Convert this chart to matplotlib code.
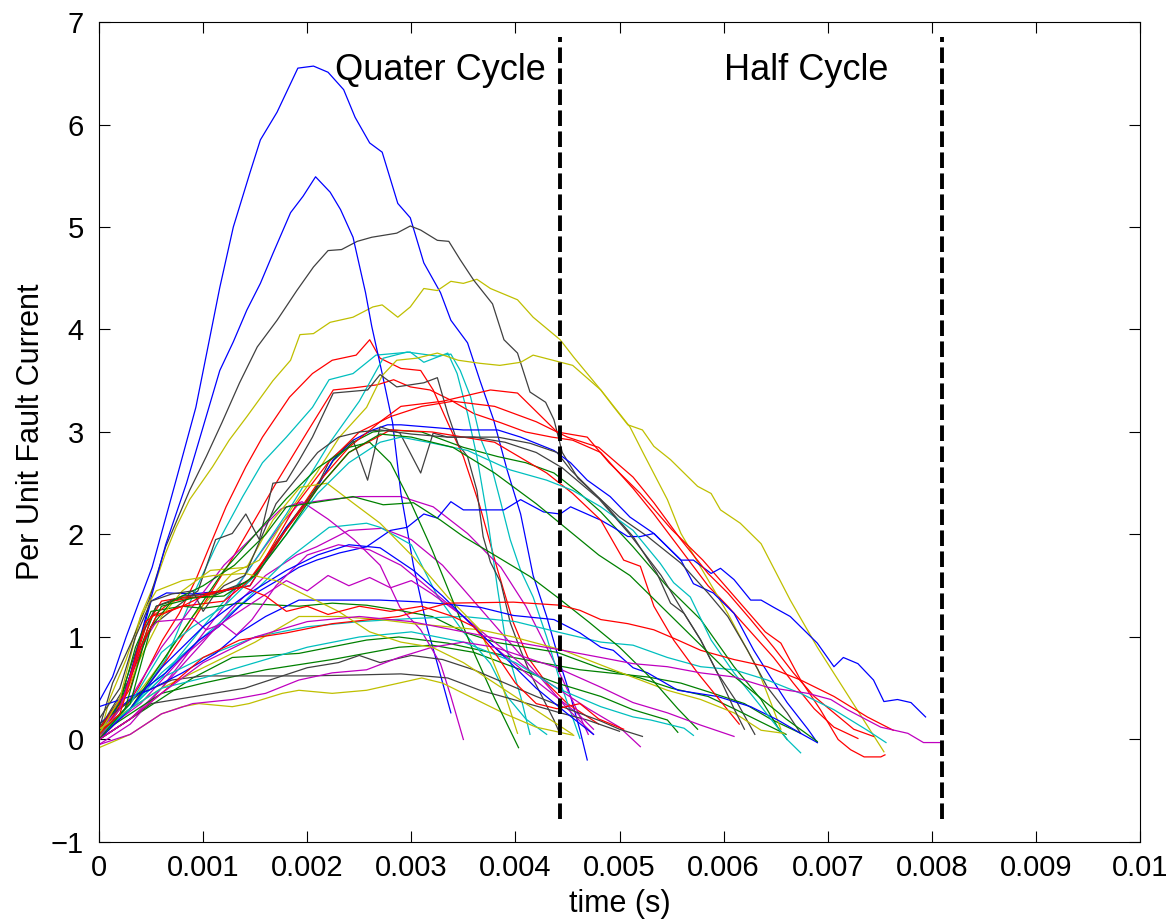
import numpy as np
import matplotlib
matplotlib.use("Agg")
import matplotlib.pyplot as plt

plt.rcParams['font.family'] = ['Liberation Sans', 'DejaVu Sans']

# ---- data: time in ms, per unit fault current ----
b1_t = [0, .13, .26, .38, .51, .74, .93, 1.06, 1.16, 1.29, 1.45, 1.55, 1.71, 1.91, 2.06, 2.2, 2.35, 2.46, 2.6, 2.72, 2.87, 2.99, 3.12, 3.28, 3.38, 3.54, 3.66, 3.79, 3.92, 4.05, 4.17, 4.3, 4.43, 4.53, 4.62, 4.69]
b1_y = [.37, .61, 1.0, 1.33, 1.68, 2.53, 3.24, 3.9, 4.41, 5.0, 5.53, 5.85, 6.12, 6.55, 6.57, 6.51, 6.34, 6.07, 5.82, 5.73, 5.23, 5.09, 4.65, 4.36, 4.09, 3.87, 3.5, 3.12, 2.63, 2.2, 1.6, 1.2, .74, .42, .09, -.2]
b2_t = [0, .25, .45, .64, .84, 1.0, 1.16, 1.29, 1.42, 1.55, 1.67, 1.84, 1.96, 2.08, 2.22, 2.32, 2.44, 2.56, 2.62, 2.72, 2.82, 2.9, 3.02, 3.15, 3.25, 3.38]
b2_y = [.05, .45, 1.2, 1.9, 2.5, 3.05, 3.6, 3.88, 4.19, 4.45, 4.74, 5.14, 5.3, 5.49, 5.34, 5.17, 4.9, 4.36, 4.03, 3.57, 3.09, 2.4, 1.7, 1.1, .74, .26]
b3_t = [0, .2, .35, .5, .65, .9, 1.2, 1.45, 1.8, 2.06, 2.25, 2.44, 2.63, 2.77, 2.9, 3.5, 3.83, 4.05, 4.37, 4.53, 4.69, 4.91, 5.1, 5.33, 5.59, 5.71, 5.9, 6.1, 6.29, 6.45, 6.61, 6.81, 6.9]
b3_y = [.05, .3, .8, 1.35, 1.43, 1.42, 1.45, 1.5, 2.07, 2.4, 2.73, 2.92, 3.02, 3.07, 3.07, 3.02, 3.02, 2.95, 2.82, 2.7, 2.53, 2.37, 2.17, 2.01, 1.75, 1.52, 1.43, 1.23, .87, .61, .36, .1, -.03]
b4_t = [0, .13, .38, .64, .77, .96, 1.15, 1.35, 1.51, 1.73, 1.92, 2.09, 2.31, 2.57, 2.8, 2.96, 3.12, 3.25, 3.38, 3.5, 3.89, 4.05, 4.27, 4.43, 4.53, 4.82, 4.94, 5.08, 5.2, 5.33, 5.46, 5.59, 5.71, 5.88, 5.97, 6.1, 6.26, 6.36, 6.48, 6.64, 6.74, 6.9, 7.06, 7.15, 7.29, 7.44, 7.54, 7.67, 7.8, 7.94]
b4_y = [.15, .26, .45, .65, .78, .97, 1.1, 1.3, 1.43, 1.56, 1.68, 1.75, 1.82, 1.88, 2.04, 2.07, 2.2, 2.16, 2.32, 2.24, 2.24, 2.34, 2.22, 2.2, 2.27, 2.14, 2.07, 1.98, 1.98, 2.01, 1.88, 1.75, 1.75, 1.62, 1.67, 1.56, 1.36, 1.36, 1.29, 1.2, 1.1, .94, .71, .8, .74, .58, .37, .39, .36, .22]
b5_t = [0, .48, .8, 1.12, 1.35, 1.6, 1.92, 2.3, 2.7, 3.12, 3.66, 3.98, 4.37, 4.62, 4.82, 4.94, 5.13, 5.27, 5.56, 5.94, 6.26, 6.52, 6.74, 6.9]
b5_y = [.32, .48, .65, .84, 1.04, 1.2, 1.36, 1.36, 1.36, 1.34, 1.29, 1.21, 1.17, 1.04, .9, .87, .7, .65, .48, .42, .32, .19, .06, -.03]
b6_t = [0, .3, .6, 1.0, 1.4, 1.8, 2.1, 2.4, 2.7, 3.02, 3.3, 3.6, 3.9, 4.2, 4.5, 4.75]
b6_y = [0, .3, .7, 1.1, 1.4, 1.65, 1.8, 1.9, 1.87, 1.65, 1.4, 1.1, .8, .5, .25, .05]

g1_t = [0, .2, .4, .55, .8, 1.1, 1.45, 1.8, 2.06, 2.25, 2.44, 2.63, 2.8, 3.1, 3.5, 3.83, 4.1, 4.37, 4.62, 4.82, 5.13, 5.46, 5.78, 6.1, 6.36, 6.52, 6.61]
g1_y = [.08, .35, .9, 1.3, 1.38, 1.4, 1.55, 2.07, 2.42, 2.72, 2.9, 3.0, 3.02, 3.0, 2.85, 2.76, 2.7, 2.6, 2.4, 2.22, 1.88, 1.49, 1.17, .71, .39, .12, 0]
g3_t = [0, .3, .6, .9, 1.28, 1.92, 2.57, 2.88, 3.35, 3.98, 4.62, 5.27, 5.59, 5.9, 6.2, 6.45, 6.74]
g3_y = [0, .2, .4, .6, .8, .84, .97, 1.0, .94, .8, .68, .61, .55, .45, .35, .2, .06]
g4_t = [0, .3, .6, 1.0, 1.6, 2.24, 2.88, 3.2, 3.6, 4.0, 4.4, 4.82, 5.13, 5.46, 5.56]
g4_y = [.05, .25, .45, .55, .68, .78, .9, .92, .85, .7, .55, .42, .29, .19, .07]
g5_t = [0, .2, .35, .5, .8, 1.0, 1.35, 1.92, 2.24, 2.57, 2.88, 3.2, 3.5, 3.8, 4.1, 4.4, 4.8, 5.2, 5.5, 5.85, 6.1, 6.4, 6.6]
g5_y = [.1, .35, .9, 1.25, 1.3, 1.28, 1.33, 1.3, 1.33, 1.31, 1.26, 1.2, 1.05, .95, .9, .85, .7, .6, .5, .42, .3, .15, .05]
g6_t = [0, .3, .6, .9, 1.2, 1.5, 1.8, 2.1, 2.4, 2.6, 2.8, 3.0, 3.2, 3.4, 3.6, 3.8, 4.03]
g6_y = [.05, .3, .75, 1.2, 1.65, 2.0, 2.35, 2.65, 2.85, 2.9, 2.7, 2.3, 1.85, 1.35, .85, .4, -.08]
g7_t = [0, .3, .5, .7, 1.0, 1.3, 1.6, 1.8, 2.25, 2.44, 2.73, 3.02, 3.28, 3.5, 3.83, 4.14, 4.4, 4.7, 5.0, 5.3, 5.56, 5.75]
g7_y = [.05, .35, 1.1, 1.35, 1.5, 1.7, 2.0, 2.27, 2.34, 2.37, 2.29, 2.31, 2.14, 1.98, 1.78, 1.59, 1.39, 1.15, .9, .6, .3, .1]
g8_t = [0, .25, .45, .6, .9, 1.2, 1.5, 1.8, 2.1, 2.4, 2.7, 3.0, 3.4, 3.8, 4.2, 4.5, 4.8, 5.1, 5.4, 5.7, 6.0, 6.3, 6.6, 6.9]
g8_y = [0, .3, 1.0, 1.3, 1.38, 1.4, 1.6, 2.0, 2.45, 2.8, 2.98, 2.95, 2.85, 2.6, 2.3, 2.05, 1.8, 1.6, 1.3, 1.0, .7, .45, .2, -.02]

r1_t = [0, .16, .38, .61, .77, .93, 1.06, 1.22, 1.41, 1.57, 1.83, 2.05, 2.24, 2.47, 2.6, 2.7, 2.9, 3.09, 3.21, 3.35, 3.5, 3.66, 3.83, 3.98, 4.12, 4.3, 4.5, 4.8]
r1_y = [.05, .16, .51, .97, 1.23, 1.56, 1.88, 2.27, 2.66, 2.95, 3.34, 3.57, 3.7, 3.75, 3.9, 3.72, 3.62, 3.6, 3.41, 3.09, 2.76, 2.27, 1.65, 1.14, .8, .55, .35, .15]
r2_t = [0, .3, .6, .9, 1.3, 1.7, 2.0, 2.25, 2.44, 2.67, 2.83, 2.99, 3.18, 3.38, 3.6, 3.86, 4.1, 4.35, 4.55, 4.82, 5.13, 5.33, 5.59, 5.85, 6.04, 6.26, 6.48, 6.67, 6.87, 7.06, 7.29]
r2_y = [0, .3, .7, 1.15, 1.8, 2.5, 3.0, 3.41, 3.43, 3.46, 3.51, 3.44, 3.41, 3.31, 3.18, 3.09, 3.0, 2.95, 2.92, 2.8, 2.45, 2.2, 1.85, 1.5, 1.3, 1.05, .8, .55, .3, .12, .01]
r3_t = [0, .2, .45, .6, 1.0, 1.45, 1.8, 2.1, 2.4, 2.7, 2.9, 3.3, 3.76, 4.02, 4.4, 4.69, 4.9, 5.2, 5.5, 5.8, 6.1, 6.4, 6.55, 6.74, 6.93, 7.1, 7.22, 7.35, 7.51, 7.55]
r3_y = [.05, .3, 1.1, 1.35, 1.42, 1.5, 2.05, 2.5, 2.85, 3.1, 3.25, 3.3, 3.41, 3.38, 3.0, 2.95, 2.7, 2.4, 2.05, 1.75, 1.4, 1.05, .94, .58, .29, 0, -.1, -.17, -.17, -.15]
r4_t = [0, .3, .5, .8, 1.2, 1.5, 1.9, 2.2, 2.5, 2.8, 3.1, 3.4, 3.8, 4.2, 4.5, 4.8, 5.13, 5.33, 5.59, 5.85, 6.04, 6.26, 6.48, 6.67, 6.87, 7.06, 7.25, 7.44]
r4_y = [0, .5, 1.2, 1.3, 1.35, 1.6, 2.3, 2.7, 3.0, 3.15, 3.25, 3.3, 3.25, 3.1, 2.95, 2.85, 2.56, 2.31, 1.95, 1.62, 1.43, 1.17, .9, .65, .42, .26, .1, .03]
r6_t = [0, .25, .45, .7, 1.0, 1.4, 1.8, 2.1, 2.4, 2.8, 3.2, 3.8, 4.3, 4.55, 4.82, 5.04, 5.2, 5.33, 5.52, 5.75, 5.95, 6.15]
r6_y = [.1, .45, 1.15, 1.35, 1.4, 1.5, 2.05, 2.45, 2.8, 3.02, 3.0, 2.9, 2.6, 2.4, 2.14, 1.75, 1.69, 1.3, .97, .65, .4, .15]
r7_t = [0, .3, .6, 1.0, 1.35, 1.8, 2.24, 2.88, 3.35, 3.98, 4.43, 4.62, 4.82, 5.08, 5.33, 5.56, 5.78, 6.1, 6.42, 6.74, 7.06, 7.38, 7.63]
r7_y = [0, .2, .45, .8, .97, 1.04, 1.13, 1.2, 1.33, 1.34, 1.31, 1.26, 1.17, 1.13, 1.07, .97, .87, .78, .71, .58, .42, .22, .09]
r8_t = [0, .2, .4, .55, .8, 1.06, 1.38, 1.6, 1.8, 2.0, 2.2, 2.5, 2.8, 3.1, 3.4, 3.6, 3.8, 4.0, 4.2, 4.4, 4.62, 4.8, 5.04]
r8_y = [.05, .25, .9, 1.2, 1.3, 1.43, 1.49, 1.4, 1.25, 1.3, 1.22, 1.3, 1.25, 1.3, 1.2, 1.1, .85, .55, .35, .3, .35, .2, .1]

c1_t = [0, .32, .64, .9, 1.12, 1.22, 1.38, 1.57, 1.8, 2.05, 2.21, 2.44, 2.66, 2.88, 2.99, 3.12, 3.35, 3.44, 3.54, 3.63, 3.73, 3.83, 3.92, 4.05, 4.14]
c1_y = [.06, .32, .78, 1.4, 1.88, 2.07, 2.37, 2.7, 2.95, 3.24, 3.51, 3.57, 3.75, 3.77, 3.78, 3.68, 3.77, 3.57, 3.18, 2.76, 2.17, 1.46, .87, .42, .05]
c2_t = [0, .3, .6, 1.0, 1.4, 1.8, 2.22, 2.5, 2.73, 2.96, 3.25, 3.38, 3.47, 3.57, 3.66, 3.76, 3.86, 3.95, 4.05, 4.17, 4.3, 4.45, 4.62]
c2_y = [.1, .3, .6, 1.1, 1.6, 2.2, 2.9, 3.3, 3.72, 3.78, 3.74, 3.76, 3.6, 3.34, 2.95, 2.7, 2.31, 1.95, 1.65, 1.39, 1.0, .5, .01]
c3_t = [0, .3, .6, 1.0, 1.4, 1.8, 2.21, 2.57, 2.7, 3.0, 3.25, 3.5, 3.76, 3.92, 4.1, 4.3]
c3_y = [.05, .3, .65, 1.0, 1.35, 1.75, 2.07, 2.11, 2.07, 1.9, 1.4, 1.05, .74, .42, .2, .05]
c4_t = [0, .3, .6, 1.0, 1.5, 2.0, 2.5, 3.0, 3.5, 4.0, 4.4, 4.82, 5.13, 5.46, 5.78, 6.1, 6.42, 6.74, 7.06, 7.38, 7.56]
c4_y = [.05, .3, .6, .8, 1.0, 1.1, 1.15, 1.18, 1.2, 1.15, 1.05, .95, .92, .8, .71, .68, .58, .45, .29, .09, -.03]
c5_t = [0, .3, .6, .9, 1.2, 1.5, 1.8, 2.1, 2.4, 2.7, 2.9, 3.21, 3.54, 3.95, 4.3, 4.55, 4.82, 5.13, 5.39, 5.52, 5.68, 5.88, 6.1, 6.36, 6.61, 6.74]
c5_y = [0, .35, .85, 1.1, 1.3, 1.6, 2.0, 2.4, 2.7, 2.9, 2.95, 2.89, 2.82, 2.63, 2.53, 2.43, 2.27, 2.04, 1.72, 1.53, 1.39, .97, .65, .32, 0, -.13]
c6_t = [0, .3, .6, 1.0, 1.5, 2.0, 2.5, 3.0, 3.5, 4.0, 4.4, 4.82, 5.13, 5.3, 5.62, 5.71]
c6_y = [.05, .3, .5, .6, .75, .9, 1.0, 1.05, .95, .75, .5, .32, .22, .19, .11, .04]

m1_t = [0, .3, .6, .9, 1.2, 1.5, 1.75, 1.92, 2.2, 2.5, 2.9, 3.21, 3.54, 3.86, 4.1, 4.4, 4.7]
m1_y = [0, .2, .5, .9, 1.3, 1.75, 2.1, 2.3, 2.34, 2.37, 2.37, 2.27, 2.01, 1.68, 1.3, .7, .05]
m2_t = [0, .3, .6, 1.0, 1.3, 1.6, 1.9, 2.09, 2.4, 2.72, 3.0, 3.3, 3.6, 3.9, 4.2, 4.5, 4.75]
m2_y = [-.05, .15, .5, .95, 1.3, 1.6, 1.8, 1.88, 2.04, 2.06, 1.95, 1.7, 1.35, 1.0, .65, .3, .05]
m3_t = [0, .3, .6, .9, 1.2, 1.5, 1.75, 1.95, 2.2, 2.45, 2.7, 2.89, 3.09, 3.28, 3.38, 3.5]
m3_y = [.1, .4, .9, 1.3, 1.7, 2.0, 2.25, 2.32, 2.15, 1.95, 1.7, 1.29, 1.07, .74, .42, 0]
m4_t = [0, .4, .8, 1.2, 1.5, 1.8, 2.0, 2.2, 2.4, 2.6, 2.8, 3.0, 3.2, 3.5, 3.8, 4.1, 4.4, 4.7, 5.0, 5.2]
m4_y = [.05, .35, .8, 1.15, 1.35, 1.55, 1.45, 1.6, 1.5, 1.58, 1.48, 1.55, 1.42, 1.2, .95, .7, .5, .3, .12, -.07]
m5_t = [0, .2, .4, .55, .9, 1.03, 1.18, 1.32, 1.47, 1.7, 2.0, 2.3, 2.6, 2.9, 3.2, 3.5, 3.8, 4.1, 4.35, 4.6, 4.75]
m5_y = [0, .3, .9, 1.15, 1.18, 1.07, 1.13, 1.02, 1.17, 1.5, 1.8, 1.9, 1.85, 1.7, 1.45, 1.2, .9, .65, .45, .25, .1]
m6_t = [0, .3, .6, .9, 1.28, 1.6, 1.92, 2.24, 2.57, 2.88, 3.2, 3.5, 3.8, 4.1, 4.4, 4.82, 5.13, 5.46, 5.78, 6.1]
m6_y = [-.05, .05, .25, .35, .39, .45, .58, .65, .68, .8, .9, .95, .9, .8, .7, .51, .36, .26, .14, .03]
m7_t = [0, .3, .6, 1.0, 1.5, 2.0, 2.5, 3.0, 3.5, 4.0, 4.4, 4.82, 5.13, 5.46, 5.78, 6.1, 6.42, 6.81, 7.03, 7.19, 7.51, 7.77, 7.92, 8.09]
m7_y = [0, .2, .45, .75, 1.0, 1.15, 1.2, 1.15, 1.05, .95, .88, .8, .74, .71, .65, .61, .51, .45, .39, .29, .12, .06, -.03, -.03]

y1_t = [0, .1, .26, .41, .55, .64, .74, .87, 1.09, 1.25, 1.42, 1.67, 1.84, 1.93, 2.06, 2.22, 2.44, 2.63, 2.72, 2.87, 2.99, 3.12, 3.25, 3.38, 3.5, 3.63, 3.76, 4.02, 4.17, 4.43, 4.56, 4.82, 4.94, 5.08, 5.22, 5.33, 5.49, 5.62, 5.75, 5.88, 5.97, 6.16, 6.36, 6.64, 6.9, 7.54]
y1_y = [0, .39, .78, 1.23, 1.56, 1.82, 2.07, 2.34, 2.66, 2.92, 3.15, 3.5, 3.7, 3.95, 3.96, 4.07, 4.12, 4.22, 4.24, 4.12, 4.22, 4.4, 4.38, 4.47, 4.45, 4.49, 4.4, 4.29, 4.12, 3.9, 3.73, 3.41, 3.25, 3.07, 3.02, 2.86, 2.73, 2.6, 2.47, 2.4, 2.24, 2.11, 1.91, 1.36, .9, -.12]
y2_t = [0, .3, .6, .9, 1.28, 1.54, 1.86, 2.09, 2.31, 2.57, 2.72, 2.86, 3.05, 3.25, 3.45, 3.66, 3.85, 4.05, 4.17, 4.36, 4.55, 4.82, 5.1, 5.23, 5.46, 5.59, 5.78, 6.04, 6.16, 6.33, 6.48, 6.55]
y2_y = [0, .35, .75, 1.2, 1.62, 1.75, 2.27, 2.6, 2.95, 3.24, 3.55, 3.7, 3.72, 3.77, 3.7, 3.67, 3.65, 3.68, 3.75, 3.7, 3.65, 3.41, 3.05, 2.79, 2.34, 2.01, 1.68, 1.23, 1.0, .68, .29, .1]
y3_t = [0, .3, .6, .8, .96, 1.28, 1.44, 1.76, 1.92, 2.24, 2.57, 2.88, 3.1, 3.3, 3.6, 3.9, 4.2, 4.56]
y3_y = [-.08, .05, .25, .32, .35, .32, .35, .45, .48, .45, .48, .55, .6, .55, .4, .25, .12, .04]
y4_t = [0, .2, .4, .6, .8, 1.07, 1.42, 1.67, 1.93, 2.19, 2.45, 2.7, 3.02, 3.35, 3.66, 3.85, 4.02]
y4_y = [0, .3, .8, 1.2, 1.45, 1.65, 1.68, 2.14, 2.46, 2.5, 2.3, 2.11, 1.78, 1.39, 1.07, .6, .06]
y5_t = [0, .3, .6, .9, 1.2, 1.5, 1.92, 2.3, 2.7, 3.02, 3.35, 3.66, 3.98, 4.46, 4.94, 5.46, 5.78, 6.1, 6.36, 6.58]
y5_y = [.1, .3, .5, .65, .8, .95, 1.2, 1.2, 1.17, 1.13, 1.1, 1.07, 1.0, .87, .68, .48, .39, .26, .09, .06]
y6_t = [0, .2, .4, .55, .8, 1.1, 1.4, 1.7, 2.0, 2.3, 2.6, 2.9, 3.2, 3.5, 3.8, 4.1, 4.4, 4.55]
y6_y = [.05, .4, 1.2, 1.45, 1.55, 1.6, 1.62, 1.55, 1.4, 1.25, 1.05, .95, .9, .75, .55, .35, .15, .05]

k1_t = [0, .13, .32, .48, .64, .87, 1.03, 1.18, 1.35, 1.52, 1.71, 1.9, 2.06, 2.2, 2.33, 2.48, 2.62, 2.86, 2.99, 3.09, 3.25, 3.36, 3.47, 3.6, 3.78, 3.89, 4.02, 4.14, 4.29, 4.37, 4.45, 4.6, 4.82, 5.13, 5.36, 5.49, 5.62, 5.78, 5.94, 6.13, 6.3]
k1_y = [.1, .55, .97, 1.36, 1.88, 2.43, 2.76, 3.09, 3.48, 3.83, 4.09, 4.38, 4.61, 4.77, 4.78, 4.86, 4.9, 4.94, 5.01, 4.97, 4.87, 4.86, 4.68, 4.48, 4.25, 3.9, 3.77, 3.39, 3.29, 3.12, 2.8, 2.55, 2.34, 1.98, 1.62, 1.33, 1.23, .97, .65, .36, .05]
k2_t = [0, .3, .5, .75, .95, 1.12, 1.28, 1.41, 1.54, 1.67, 1.8, 1.92, 2.05, 2.25, 2.58, 2.7, 2.86, 3.12, 3.25, 3.35, 3.45, 3.54, 3.63, 3.69, 3.76, 3.86, 3.95, 4.05, 4.14, 4.24, 4.37, 4.43]
k2_y = [.1, .6, 1.1, 1.3, 1.45, 1.95, 2.01, 2.2, 1.95, 2.5, 2.52, 2.72, 2.95, 3.38, 3.41, 3.56, 3.44, 3.48, 3.53, 3.18, 2.88, 2.76, 2.43, 1.98, 1.73, 1.53, 1.14, .87, .65, .45, .19, .05]
k3_t = [0, .2, .4, .55, .8, 1.1, 1.45, 1.8, 2.06, 2.22, 2.44, 2.58, 2.7, 2.89, 3.09, 3.21, 3.35, 3.83, 4.14, 4.4, 4.53, 4.79, 5.0, 5.27, 5.59, 5.85, 6.04, 6.23, 6.42, 6.61, 6.74]
k3_y = [.1, .4, 1.0, 1.3, 1.4, 1.42, 1.55, 2.05, 2.4, 2.73, 2.92, 2.53, 3.05, 2.99, 2.6, 2.99, 2.95, 2.95, 2.89, 2.8, 2.63, 2.37, 2.17, 1.98, 1.72, 1.43, 1.2, .87, .51, .26, .06]
k4_t = [0, .2, .4, .7, 1.0, 1.5, 2.0, 2.5, 2.9, 3.35, 3.66, 3.98, 4.43, 4.69, 5.0]
k4_y = [.15, .3, .45, .58, .62, .62, .62, .63, .64, .6, .48, .39, .26, .19, .08]
k5_t = [0, .3, .5, .8, 1.1, 1.4, 1.7, 2.0, 2.3, 2.5, 2.7, 3.0, 3.3, 3.6, 3.9, 4.2, 4.5, 4.82, 5.0, 5.22]
k5_y = [0, .2, .35, .4, .45, .5, .6, .7, .75, .82, .75, .82, .78, .68, .55, .42, .3, .18, .1, .03]
k6_t = [0, .2, .35, .5, .7, .9, 1.0, 1.1, 1.2, 1.4, 1.55, 1.7, 1.9, 2.1, 2.3, 2.5, 2.7, 3.0, 3.35, 3.6, 3.9, 4.2, 4.45, 4.8, 5.1, 5.4, 5.62, 5.78, 5.94, 6.1, 6.2]
k6_y = [.2, .5, 1.0, 1.35, 1.42, 1.45, 1.25, 1.4, 1.5, 1.6, 1.95, 2.3, 2.55, 2.8, 2.95, 3.0, 3.02, 2.98, 2.95, 2.95, 2.9, 2.8, 2.65, 2.35, 2.0, 1.6, 1.23, .97, .65, .3, .1]

quarter_cycle = 4.43  # ms
half_cycle = 8.1      # ms
x_ticks = [0, 0.001, 0.002, 0.003, 0.004, 0.005, 0.006, 0.007, 0.008, 0.009, 0.01]
x_tick_labels = ['0', '0.001', '0.002', '0.003', '0.004', '0.005', '0.006', '0.007', '0.008', '0.009', '0.01']
y_ticks = [-1, 0, 1, 2, 3, 4, 5, 6, 7]

# matlab-ish default line colours
cb, cg, cr, cc, cm, cy, ck = '#0000FF', '#008000', '#FF0000', '#00BFBF', '#BF00BF', '#BFBF00', '#404040'

curves = [
    (b1_t, b1_y, cb), (g1_t, g1_y, cg), (r1_t, r1_y, cr), (c1_t, c1_y, cc), (m1_t, m1_y, cm), (y1_t, y1_y, cy), (k1_t, k1_y, ck),
    (b2_t, b2_y, cb), (g3_t, g3_y, cg), (r2_t, r2_y, cr), (c2_t, c2_y, cc), (m2_t, m2_y, cm), (y2_t, y2_y, cy), (k2_t, k2_y, ck),
    (b3_t, b3_y, cb), (g4_t, g4_y, cg), (r3_t, r3_y, cr), (c3_t, c3_y, cc), (m3_t, m3_y, cm), (y3_t, y3_y, cy), (k3_t, k3_y, ck),
    (b4_t, b4_y, cb), (g5_t, g5_y, cg), (r4_t, r4_y, cr), (c4_t, c4_y, cc), (m4_t, m4_y, cm), (y4_t, y4_y, cy), (k4_t, k4_y, ck),
    (b5_t, b5_y, cb), (g6_t, g6_y, cg), (r6_t, r6_y, cr), (c5_t, c5_y, cc), (m5_t, m5_y, cm), (y5_t, y5_y, cy), (k5_t, k5_y, ck),
    (b6_t, b6_y, cb), (g7_t, g7_y, cg), (r7_t, r7_y, cr), (c6_t, c6_y, cc), (m6_t, m6_y, cm), (y6_t, y6_y, cy), (k6_t, k6_y, ck),
    (g8_t, g8_y, cg), (r8_t, r8_y, cr), (m7_t, m7_y, cm),
]

fig = plt.figure(figsize=(11.72, 9.21), dpi=100)
ax = fig.add_axes([0.0845, 0.0858, 0.8882, 0.8903])

for t, y, col in curves:
    ax.plot(np.array(t) / 1000, y, color=col, linewidth=0.9)

# cycle markers
for xc in [quarter_cycle, half_cycle]:
    ax.plot([xc / 1000, xc / 1000], [-0.78, 6.85], color='black', linewidth=2.8,
            linestyle=(0, (4, 1.4)), dash_capstyle='butt')

ax.text(0.00227, 6.53, 'Quater Cycle', fontsize=26, ha='left', va='center')
ax.text(0.0060, 6.53, 'Half Cycle', fontsize=26, ha='left', va='center')

ax.set_xlim(0, 0.01)
ax.set_ylim(-1, 7)
ax.set_xticks(x_ticks)
ax.set_xticklabels(x_tick_labels)
ax.set_yticks(y_ticks)
ax.tick_params(direction='in', length=8, width=0.8, labelsize=21, top=True, right=True)
ax.tick_params(axis='x', pad=9)
ax.tick_params(axis='y', pad=11)
for s in ax.spines.values():
    s.set_linewidth(0.8)

ax.set_xlabel('time (s)', fontsize=22, labelpad=5)
ax.set_ylabel('Per Unit Fault Current', fontsize=22, labelpad=3)

fig.savefig('out.png', dpi=100)
